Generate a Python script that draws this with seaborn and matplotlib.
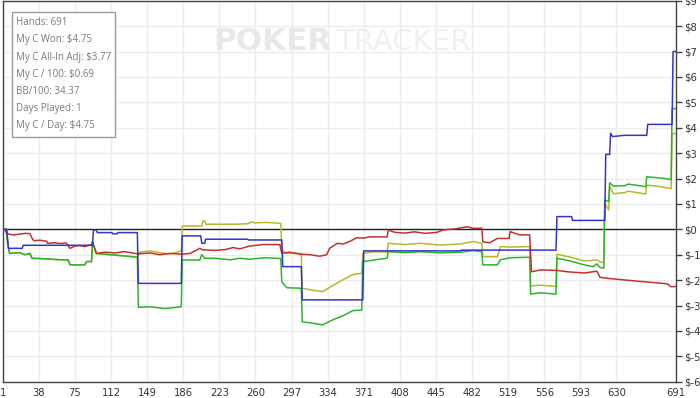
import matplotlib
matplotlib.use("Agg")
import matplotlib.pyplot as plt
import seaborn as sns
import pandas as pd
from matplotlib.patches import Rectangle

# ---- data (hand number, cumulative $) ----
blue_hands = [1, 5, 7, 21, 22, 93, 94, 97, 98, 113, 114, 118, 119, 139, 140, 184, 185, 204, 205, 208,
              209, 252, 253, 287, 288, 307, 308, 370, 371, 470, 471, 568, 569, 584, 585, 618, 619, 623,
              624, 626, 638, 661, 662, 687, 688, 691]
blue_vals = [0.0, 0.0, -0.75, -0.75, -0.63, -0.63, -0.03, -0.03, -0.13, -0.13, -0.18, -0.18, -0.13, -0.13,
             -2.13, -2.13, -0.26, -0.26, -0.55, -0.55, -0.39, -0.39, -0.42, -0.42, -1.47, -1.47, -2.78,
             -2.78, -0.85, -0.85, -0.82, -0.82, 0.5, 0.5, 0.35, 0.35, 2.95, 2.95, 3.78, 3.65, 3.7, 3.7,
             4.13, 4.13, 7.0, 7.0]

red_hands = [1, 3, 5, 8, 13, 18, 24, 29, 31, 33, 39, 46, 47, 54, 60, 66, 70, 75, 80, 85, 92, 93, 97,
             106, 116, 126, 140, 152, 162, 172, 185, 193, 203, 206, 218, 229, 237, 244, 254, 268, 285,
             287, 295, 306, 316, 326, 333, 336, 344, 350, 357, 364, 370, 377, 395, 396, 403, 413, 423,
             434, 446, 452, 465, 477, 483, 492, 493, 500, 508, 520, 521, 526, 531, 541, 543, 552, 569,
             582, 597, 610, 613, 621, 634, 654, 675, 682, 686, 691]
red_vals = [0.0, 0.0, -0.16, -0.2, -0.22, -0.19, -0.16, -0.17, -0.35, -0.45, -0.43, -0.47, -0.55, -0.53,
            -0.56, -0.54, -0.75, -0.66, -0.64, -0.68, -0.6, -0.52, -0.95, -0.9, -0.93, -0.88, -0.97,
            -0.93, -1.0, -0.95, -0.98, -0.95, -0.75, -0.81, -0.83, -0.8, -0.72, -0.77, -0.66, -0.6,
            -0.6, -0.95, -0.9, -0.98, -1.0, -1.06, -1.0, -0.75, -0.55, -0.58, -0.47, -0.33, -0.35, -0.3,
            -0.3, -0.03, -0.12, -0.15, -0.1, -0.16, -0.12, -0.03, 0.02, 0.1, 0.04, 0.04, -0.49, -0.53,
            -0.36, -0.36, -0.09, -0.16, -0.22, -0.22, -1.67, -1.6, -1.62, -1.68, -1.72, -1.65, -1.89,
            -1.93, -1.98, -2.05, -2.12, -2.15, -2.26, -2.25]

green_hands = [1, 5, 6, 8, 18, 24, 29, 31, 44, 60, 68, 70, 85, 87, 92, 93, 97, 111, 126, 139, 140, 152,
               167, 177, 184, 185, 203, 205, 208, 218, 234, 244, 254, 270, 286, 287, 292, 307, 308, 319,
               329, 340, 350, 360, 369, 370, 383, 395, 396, 413, 429, 449, 470, 483, 492, 493, 508, 511,
               521, 541, 542, 552, 568, 569, 583, 597, 606, 610, 613, 617, 618, 622, 623, 627, 639, 642,
               660, 661, 675, 686, 687, 691]
green_vals = [0.0, 0.0, -0.55, -0.95, -0.92, -1.0, -0.95, -1.14, -1.16, -1.2, -1.2, -1.4, -1.4, -1.27,
              -1.27, -0.49, -0.95, -1.0, -1.05, -1.1, -3.07, -3.05, -3.12, -3.08, -3.05, -1.21, -1.21,
              -1.0, -1.14, -1.14, -1.2, -1.14, -1.18, -1.12, -1.15, -2.06, -2.3, -2.32, -3.64, -3.7,
              -3.76, -3.55, -3.4, -3.2, -3.18, -1.27, -1.2, -1.14, -0.88, -0.92, -0.88, -0.93, -0.9,
              -0.84, -0.88, -1.4, -1.4, -1.2, -1.12, -1.1, -2.55, -2.5, -2.55, -1.14, -1.25, -1.4, -1.47,
              -1.36, -1.5, -1.53, 1.15, 1.1, 1.83, 1.7, 1.72, 1.78, 1.68, 2.07, 2.02, 1.96, 4.75, 4.75]

yellow_hands = [1, 5, 6, 8, 18, 24, 29, 31, 44, 60, 68, 70, 85, 87, 92, 93, 97, 111, 126, 139, 141, 152,
                162, 172, 180, 184, 185, 205, 206, 208, 209, 240, 252, 257, 259, 270, 280, 286, 287, 292,
                307, 308, 319, 329, 340, 350, 360, 369, 370, 382, 395, 396, 413, 429, 449, 470, 483, 492,
                493, 508, 511, 521, 541, 542, 552, 568, 569, 583, 597, 606, 610, 613, 617, 618, 622, 623,
                627, 639, 642, 660, 661, 675, 686, 687, 691]
yellow_vals = [0.0, 0.0, -0.55, -0.95, -0.92, -1.0, -0.95, -1.14, -1.16, -1.2, -1.2, -1.4, -1.4, -1.27,
               -1.27, -0.49, -0.95, -1.0, -1.05, -1.1, -0.9, -0.85, -0.92, -0.97, -0.9, -0.85, 0.13, 0.13,
               0.33, 0.33, 0.2, 0.2, 0.22, 0.3, 0.25, 0.27, 0.25, 0.23, -0.81, -0.95, -0.95, -2.32, -2.4,
               -2.45, -2.2, -1.98, -1.78, -1.73, -0.95, -0.88, -0.9, -0.55, -0.6, -0.55, -0.62, -0.58,
               -0.48, -0.55, -1.08, -1.08, -0.68, -0.7, -0.68, -2.23, -2.2, -2.25, -0.98, -1.1, -1.25,
               -1.22, -1.2, -1.28, -1.31, 1.02, 0.76, 1.68, 1.4, 1.45, 1.5, 1.39, 1.74, 1.68, 1.6, 3.77,
               3.77]

x_ticks = [1, 38, 75, 112, 149, 186, 223, 260, 297, 334, 371, 408, 445, 482, 519, 556, 593, 630, 691]
y_ticks = list(range(-6, 10))

stats_lines = ["Hands: 691", "My C Won: $4.75", "My C All-In Adj: $3.77", "My C / 100: $0.69",
               "BB/100: 34.37", "Days Played: 1", "My C / Day: $4.75"]

# ---- figure ----
sns.set_theme(style="white")
plt.rcParams['font.family'] = ['DejaVu Sans']

W, H = 700, 398
fig = plt.figure(figsize=(W / 100, H / 100), dpi=100)
ax = fig.add_axes([2.7 / W, 16.3 / H, (676 - 2.7) / W, 381 / H])

series = [
    (yellow_hands, yellow_vals, "#b9b72e"),
    (green_hands, green_vals, "#2cb52c"),
    (red_hands, red_vals, "#c23131"),
    (blue_hands, blue_vals, "#3434c8"),
]
for hands, vals, col in series:
    df = pd.DataFrame({"hand": hands, "won": vals})
    sns.lineplot(data=df, x="hand", y="won", color=col, linewidth=1.1, ax=ax,
                 estimator=None, sort=False, zorder=3)

ax.set_xlim(1, 691)
ax.set_ylim(-6, 9)
ax.axhline(0, color="#222222", lw=1.0, zorder=2)

ax.set_xticks(x_ticks)
ax.set_xticklabels([str(t) for t in x_ticks])
ax.set_yticks(y_ticks)
ax.set_yticklabels([f"${t}" for t in y_ticks])
ax.yaxis.tick_right()
ax.grid(True, color="#ececec", lw=1.0, zorder=0)
ax.set_axisbelow(True)
ax.set_xlabel("")
ax.set_ylabel("")
ax.tick_params(axis="both", which="both", direction="out", length=4, width=1,
               color="#444444", labelsize=7.2, labelcolor="#333333", pad=1.5)
ax.tick_params(axis="x", length=3)
for s in ax.spines.values():
    s.set_visible(True)
    s.set_color("#444444")
    s.set_linewidth(1.0)

# watermark, fitted to its width in the reference
renderer = fig.canvas.get_renderer()


def fitted_text(x0, x1, yc, txt, weight, color):
    t = ax.text(x0 / W, 1 - yc / H, txt, transform=fig.transFigure, ha="left", va="center",
                fontsize=20, fontweight=weight, color=color, zorder=1)
    w = t.get_window_extent(renderer=renderer).width
    t.set_fontsize(20 * (x1 - x0) / w)
    return t


fitted_text(213, 331, 41.5, "POKER", "bold", "#e8e8e8")
fitted_text(336, 470, 41.5, "TRACKER", "normal", "#f0f0f0")

# stats box
box = Rectangle((12 / W, 1 - 137 / H), (115 - 12) / W, (137 - 12) / H, transform=fig.transFigure,
                facecolor="white", edgecolor="#9a9a9a", lw=1.0, zorder=5)
fig.patches.append(box)
for i, line in enumerate(stats_lines):
    fig.text(16 / W, 1 - (22.7 + i * 17.2) / H, line, ha="left", va="center",
             fontsize=7, color="#7a7a7a", family=["Open Sans", "DejaVu Sans"], zorder=6)

fig.savefig("out.png", dpi=100)
